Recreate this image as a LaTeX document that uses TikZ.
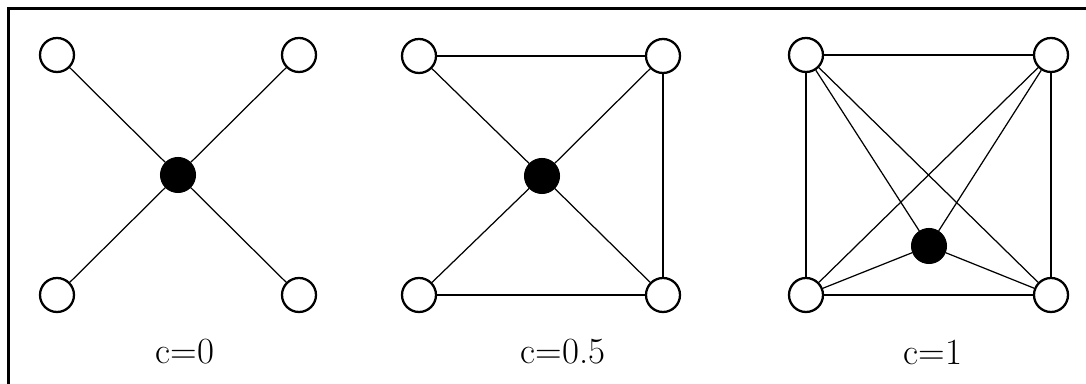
\documentclass[tikz,border=0pt]{standalone}
\usepackage{tikz}
\usetikzlibrary{arrows.meta,positioning,calc}

\begin{document}
\begin{tikzpicture}[
    x=0.02cm, y=-0.02cm,
    leaf/.style={draw, circle, fill=white, line width=1.3pt, minimum size=0.68cm, inner sep=0pt},
    hub/.style={draw, circle, fill=black, line width=0.6pt, minimum size=0.70cm, inner sep=0pt},
    spoke/.style={black, line width=0.7pt},
    rim/.style={black, line width=1.4pt},
    frame/.style={black, line width=1.8pt},
    lbl/.style={font=\fontsize{21}{24}\selectfont, inner sep=0pt}
]
\useasboundingbox (0,0) rectangle (1086,384);
\draw[frame] (1086,8.5) -| (8.5,384);

% c=0 : star only
\node[hub] (a-c) at (178,175) {};
\node[leaf] (a-tl) at (57,55) {};
\node[leaf] (a-tr) at (299,55) {};
\node[leaf] (a-bl) at (57,295) {};
\node[leaf] (a-br) at (299,295) {};
\foreach \b in {a-tl, a-tr, a-bl, a-br}
    \draw[spoke] (a-c) -- (\b);
\node[lbl] (a-lbl) at (185,352) {c=0};

% c=0.5 : star plus three sides
\node[hub] (b-c) at (542,176) {};
\node[leaf] (b-tl) at (419,56) {};
\node[leaf] (b-tr) at (663,56) {};
\node[leaf] (b-bl) at (419,295) {};
\node[leaf] (b-br) at (663,295) {};
\foreach \b in {b-tl, b-tr, b-bl, b-br}
    \draw[spoke] (b-c) -- (\b);
\foreach \a/\b in {b-tl/b-tr, b-tr/b-br, b-bl/b-br}
    \draw[rim] (\a) -- (\b);
\node[lbl] (b-lbl) at (563,352) {c=0.5};

% c=1 : complete graph
\node[hub] (c-c) at (929,246) {};
\node[leaf] (c-tl) at (806,55) {};
\node[leaf] (c-tr) at (1051,55) {};
\node[leaf] (c-bl) at (806,295) {};
\node[leaf] (c-br) at (1051,295) {};
\foreach \b in {c-tl, c-tr, c-bl, c-br}
    \draw[spoke] (c-c) -- (\b);
\foreach \a/\b in {c-tl/c-br, c-tr/c-bl}
    \draw[spoke] (\a) -- (\b);
\foreach \a/\b in {c-tl/c-tr, c-tr/c-br, c-bl/c-br, c-tl/c-bl}
    \draw[rim] (\a) -- (\b);
\node[lbl] (c-lbl) at (933,352) {c=1};
\end{tikzpicture}
\end{document}
